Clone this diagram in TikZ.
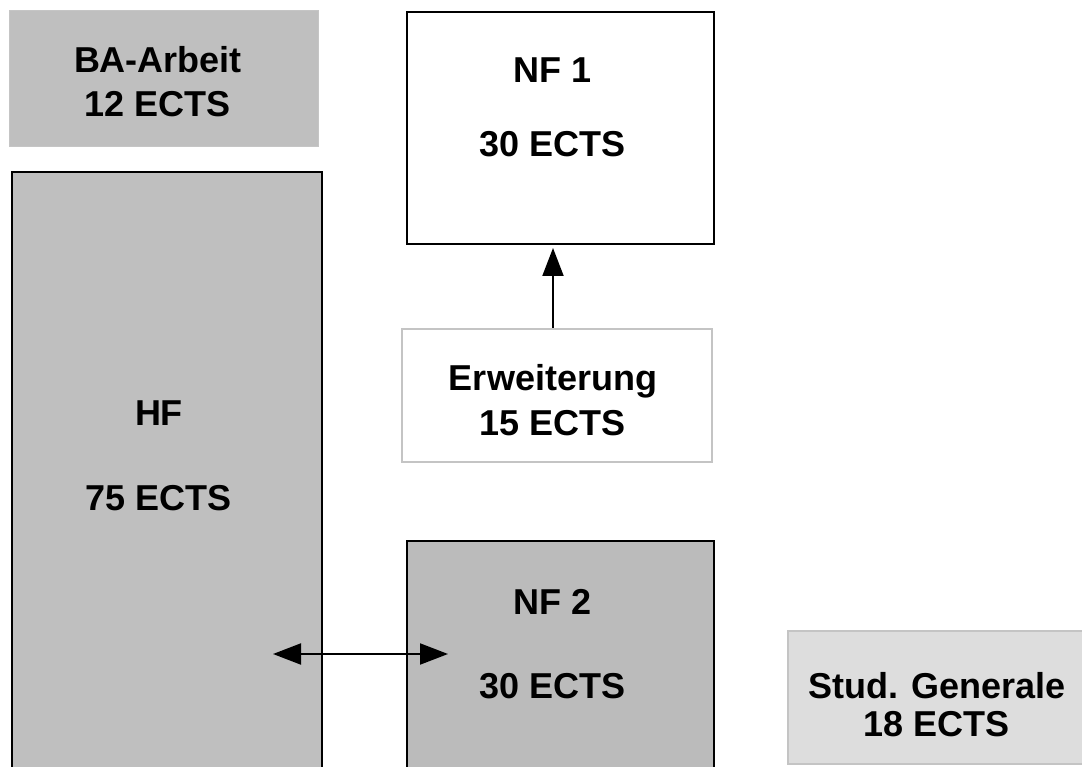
\documentclass[tikz,border=0pt]{standalone}
\usepackage{fontspec}
\setmainfont{Liberation Sans}
\usetikzlibrary{arrows.meta}
\definecolor{grayA}{HTML}{BFBFBF}
\definecolor{grayB}{HTML}{BBBBBB}
\definecolor{grayC}{HTML}{DDDDDD}
\definecolor{edgeL}{HTML}{C4C4C4}
\tikzset{
  box/.style={rectangle, line width=2pt, inner sep=0pt},
  lbl/.style={anchor=base, inner sep=0pt, font=\fontsize{36}{43}\selectfont\bfseries},
  conn/.style={line width=2pt, -{Triangle[length=28pt,width=21pt]}},
  dconn/.style={line width=2pt, {Triangle[length=28pt,width=21pt]}-{Triangle[length=28pt,width=21pt]}}
}
\begin{document}
\begin{tikzpicture}[x=1pt,y=-1pt]
\useasboundingbox (0,0) rectangle (1082,767);
\clip (0,0) rectangle (1082,767);
\fill[white] (0,0) rectangle (1082,767);
% boxes
\node[box, fill=grayA, draw=grayA!90!white, line width=1pt, minimum width=309pt, minimum height=136pt] (ba) at (163.5,79) {};
\node[box, fill=grayA, draw=black, minimum width=310pt, minimum height=628pt] (hf) at (167,486) {};
\node[box, fill=white, draw=black, minimum width=307pt, minimum height=232pt] (nf1) at (560.5,128) {};
\node[box, fill=white, draw=edgeL, minimum width=310pt, minimum height=133pt] (erw) at (557,395.5) {};
\node[box, fill=grayB, draw=black, minimum width=307pt, minimum height=259pt] (nf2) at (560.5,670.5) {};
\node[box, fill=grayC, draw=edgeL, minimum width=312pt, minimum height=133pt] (stud) at (944,697.5) {};
% labels
\node[lbl] (ba1) at (158,73) {BA-Arbeit};
\node[lbl] (ba2) at (158,117) {12 ECTS};
\node[lbl] (hf1) at (159,425) {HF};
\node[lbl] (hf2) at (159,510) {75 ECTS};
\node[lbl] (nf11) at (553,83) {NF 1};
\node[lbl] (nf12) at (553,157) {30 ECTS};
\node[lbl] (erw1) at (553,391) {Erweiterung};
\node[lbl] (erw2) at (553,435) {15 ECTS};
\node[lbl] (nf21) at (553,614) {NF 2};
\node[lbl] (nf22) at (553,698) {30 ECTS};
\node[lbl] (stud1) at (937,698) {Stud. Generale};
\node[lbl] (stud2) at (937,736) {18 ECTS};
% connectors
\coordinate (erwtop) at ([xshift=-4pt]erw.north);
\draw[conn, shorten >=3pt] (erwtop) -- (erwtop |- nf1.south);
\coordinate (hfend) at (273,654);
\coordinate (nf2end) at (448,654);
\draw[dconn] (hfend) -- (nf2end);
\end{tikzpicture}
\end{document}
